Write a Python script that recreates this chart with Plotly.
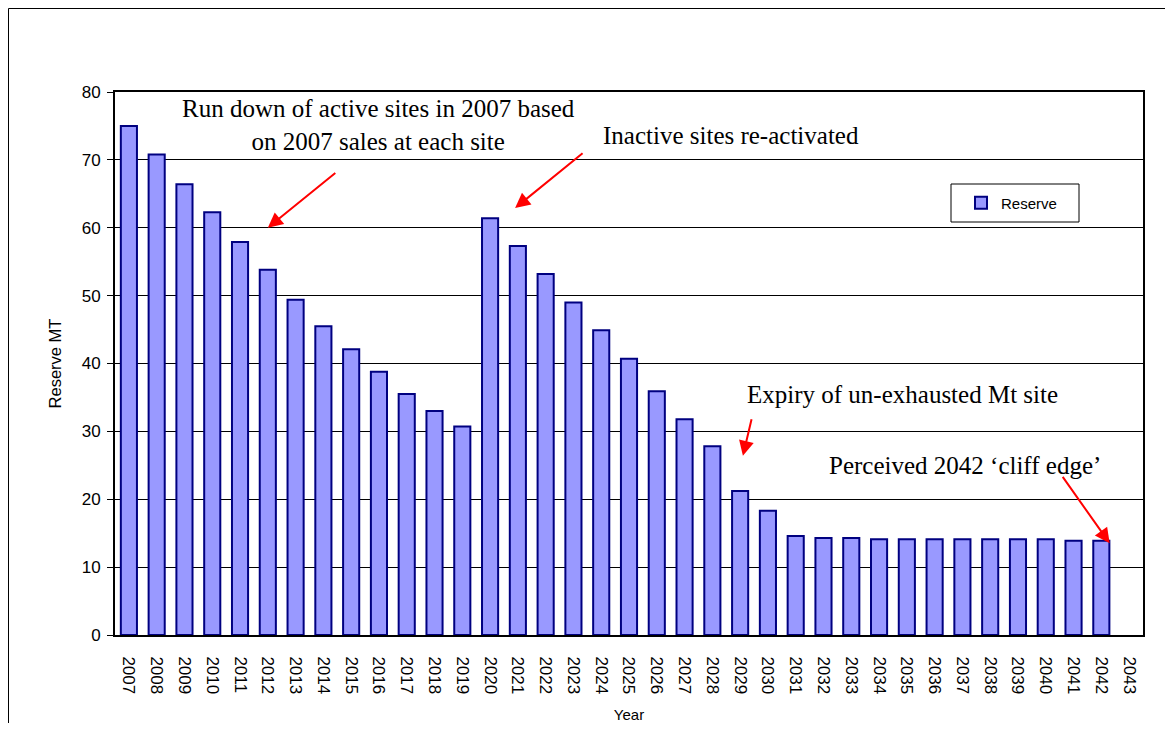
import plotly.graph_objects as go

years = [str(y) for y in range(2007, 2044)]
reserve = [75.0, 70.8, 66.4, 62.3, 57.9, 53.8, 49.4, 45.5, 42.1, 38.8, 35.5, 33.0, 30.7,
           61.4, 57.3, 53.2, 49.0, 44.9, 40.7, 35.9, 31.8, 27.8, 21.2, 18.3,
           14.6, 14.3, 14.3, 14.1, 14.1, 14.1, 14.1, 14.1, 14.1, 14.1, 13.9, 13.9, None]

notes = ["Run down of active sites in 2007 based<br>on 2007 sales at each site",
         "Inactive sites re-activated",
         "Expiry of un-exhausted Mt site",
         "Perceived 2042 \u2018cliff edge\u2019"]

# page has an 8px body margin, so the figure starts at (8, 8)
L, T, PW, PH = 115, 92, 1028, 543


def px(x):
    return (x - L) / PW


def py(y):
    return (T + PH - y) / PH


fig = go.Figure()
fig.add_trace(go.Bar(x=years, y=reserve, name="Reserve",
                     marker=dict(color="#9999FF", line=dict(color="#000080", width=2))))

serif = dict(family="Liberation Serif, Times New Roman, serif", size=25, color="black")

# text labels
for txt, x, y in zip(notes, [378, 731, 902, 965], [125, 135, 394, 465]):
    fig.add_annotation(text=txt, x=px(x), y=py(y), xref="paper", yref="paper",
                       xanchor="center", yanchor="middle",
                       showarrow=False, font=serif, align="center")

# red arrows
for x, y, ax, ay in [(5, 60, 69, -56), (13.9, 62.9, 69, -56),
                     (22.1, 26.4, 9, -38), (35.3, 13.5, -48, -68)]:
    fig.add_annotation(x=x, y=y, xref="x", yref="y", text="", showarrow=True,
                       ax=ax, ay=ay, arrowcolor="red", arrowwidth=2,
                       arrowhead=2, arrowsize=1.5)

# legend box + outer frame
fig.add_shape(type="rect", xref="paper", yref="paper",
              x0=px(951), x1=px(1079), y0=py(222), y1=py(184),
              line=dict(color="black", width=1), fillcolor="white", layer="below")
fig.add_shape(type="line", xref="paper", yref="paper",
              x0=px(8.5), x1=1.1, y0=py(8.5), y1=py(8.5),
              line=dict(color="black", width=1))
fig.add_shape(type="line", xref="paper", yref="paper",
              x0=px(8.5), x1=px(8.5), y0=-0.3, y1=py(8.5),
              line=dict(color="black", width=1))

fig.update_layout(
    width=1157, height=715,
    margin=dict(l=L - 8, r=22, t=T - 8, b=88),
    plot_bgcolor="white", paper_bgcolor="white",
    bargap=0.42,
    font=dict(family="Liberation Sans, Arial, sans-serif", size=17, color="black"),
    showlegend=True,
    legend=dict(x=px(961), y=py(203), xanchor="left", yanchor="middle",
                bgcolor="rgba(0,0,0,0)", font=dict(size=15), itemwidth=30),
)
fig.update_xaxes(title=dict(text="Year", standoff=16, font=dict(size=15)), tickangle=90,
                 ticklabelstandoff=16, automargin=False,
                 showline=True, linecolor="black", linewidth=2, mirror=True, ticks="")
fig.update_yaxes(title=dict(text="Reserve MT", standoff=16, font=dict(size=16.5)),
                 range=[0, 80], dtick=10, ticklabelstandoff=3, automargin=False,
                 showgrid=True, gridcolor="black", gridwidth=1, showline=True,
                 linecolor="black", linewidth=2, mirror=True, ticks="outside",
                 ticklen=6, tickcolor="black", zeroline=False)

fig.write_html("out.html")
